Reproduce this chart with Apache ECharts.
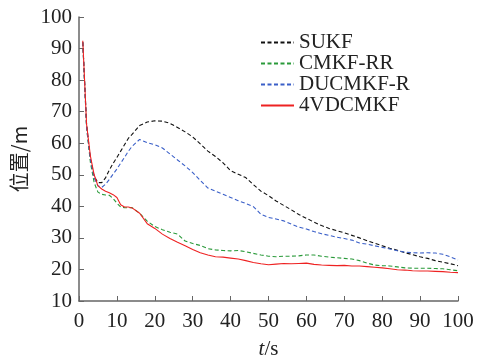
<!DOCTYPE html>
<html>
<head>
<meta charset="utf-8">
<script src="https://cdn.jsdelivr.net/npm/echarts@6/dist/echarts.min.js"></script>
<style>
  html, body { margin: 0; padding: 0; background: #fff; }
  #chart { width: 480px; height: 356px; }
</style>
</head>
<body>
<div id="chart"></div>
<script>
// 时间 t/s
const times = [1, 2, 3, 4, 5, 6, 7, 8, 9, 10, 11, 12, 13, 14, 16, 18, 20, 22, 24, 26, 28, 30,
  32, 34, 36, 38, 40, 42, 44, 46, 48, 50, 52, 54, 56, 58, 60, 62, 64, 66, 68, 70,
  72, 74, 76, 78, 80, 82, 84, 86, 88, 90, 92, 94, 96, 98, 100];

const sukf = [92, 66, 55, 49.5, 47.5, 47.5, 49, 51.5, 53.6, 55.5, 57.5, 59.5, 61.5, 62.8, 65.6, 66.7, 67.1, 67, 66.3, 65, 63.6, 62,
  59.8, 57.5, 55.8, 53.8, 51.3, 50.2, 49.1, 46.9, 44.8, 43.4, 41.7, 40.3, 38.9, 37.4, 36.2, 35, 33.9, 33, 32.3, 31.6,
  30.8, 30, 29.1, 28.3, 27.5, 26.7, 26.1, 25.3, 24.7, 24, 23.5, 22.8, 22.3, 21.8, 21.2];

const cmkfRR = [92, 65, 54, 47.5, 44.5, 43.8, 43.6, 43.5, 42.5, 41, 39.8, 39.6, 39.5, 39.6, 37.8, 35.3, 33.6, 32.6, 31.8, 31.2, 29, 28.2,
  27.6, 26.6, 26.2, 26, 25.9, 26, 25.6, 25.1, 24.6, 24.2, 24, 24.2, 24.2, 24.3, 24.6, 24.6, 24.2, 23.9, 23.7, 23.5,
  23.3, 22.8, 22, 21.4, 21.2, 21.1, 20.8, 20.5, 20.4, 20.4, 20.4, 20.3, 20.2, 19.9, 19.6];

const ducmkfR = [92, 65, 55, 49, 46.5, 46, 47, 48.5, 50.2, 51.8, 53.7, 55.5, 57.4, 59, 61.2, 60.2, 59.5, 58.5, 56.6, 54.7, 52.8, 50.7,
  48.2, 45.8, 44.8, 43.8, 42.8, 41.8, 40.9, 39.9, 37.5, 36.5, 36, 35.4, 34.4, 33.4, 32.8, 32, 31.3, 30.8, 30.2, 29.8,
  29.3, 28.4, 28, 27.5, 27, 26.5, 25.9, 25.5, 25.3, 25.2, 25.3, 25.2, 24.8, 24, 23];

const vdcmkf = [92.5, 66, 56, 50, 46.5, 45.5, 44.8, 44.3, 43.7, 42.8, 40.5, 39.8, 39.8, 39.5, 37.8, 34.5, 33, 31.2, 29.8, 28.6, 27.5, 26.3,
  25.3, 24.6, 24, 23.9, 23.6, 23.3, 22.8, 22.2, 21.8, 21.5, 21.7, 21.9, 21.8, 21.9, 22, 21.6, 21.4, 21.3, 21.2, 21.3,
  21.1, 21.1, 20.9, 20.7, 20.5, 20.2, 19.9, 19.8, 19.6, 19.5, 19.5, 19.4, 19.3, 19.1, 19];

const legendNames = ['SUKF', 'CMKF-RR', 'DUCMKF-R', '4VDCMKF'];

const serif = 'Liberation Serif';

const pairs = (vals) => times.map((t, i) => [t, vals[i]]);

const lineSeries = (name, vals, color, dashed) => ({
  name: name,
  type: 'line',
  data: pairs(vals),
  symbol: 'none',
  lineStyle: { color: color, width: 1.1, type: dashed ? [4, 2.5] : 'solid' },
  itemStyle: { color: color },
  z: dashed ? 2 : 3
});

const chart = echarts.init(document.getElementById('chart'));
chart.setOption({
  animation: false,
  backgroundColor: '#fff',
  grid: { left: 79, right: 22, top: 17, bottom: 55, containLabel: false, outerBoundsMode: 'none' },
  legend: {
    orient: 'vertical',
    left: 260,
    top: 32,
    padding: 0,
    itemWidth: 33,
    itemHeight: 10,
    itemGap: 0,
    itemStyle: { opacity: 0 },
    textStyle: { fontFamily: serif, fontSize: 21, color: '#222', lineHeight: 20 },
    data: legendNames
  },
  xAxis: {
    type: 'value',
    min: 0,
    max: 100,
    interval: 10,
    name: '{i|t}/s',
    nameLocation: 'middle',
    nameGap: 38,
    nameTextStyle: {
      fontFamily: serif, fontSize: 21, color: '#222',
      rich: { i: { fontFamily: serif, fontSize: 21, fontStyle: 'italic', color: '#222' } }
    },
    axisLine: { lineStyle: { color: '#666', width: 1.5 } },
    axisTick: { inside: true, length: 5, lineStyle: { color: '#666', width: 1 } },
    axisLabel: { fontFamily: serif, fontSize: 21, color: '#222', margin: 10 },
    splitLine: { show: false }
  },
  yAxis: {
    type: 'value',
    min: 10,
    max: 100,
    interval: 10,
    name: '位置/m',
    nameLocation: 'middle',
    nameGap: 43,
    nameTextStyle: { fontFamily: 'Noto Sans CJK SC', fontSize: 20, color: '#222' },
    axisLine: { show: true, lineStyle: { color: '#666', width: 1.5 } },
    axisTick: { show: true, inside: true, length: 5, lineStyle: { color: '#666', width: 1 } },
    axisLabel: { fontFamily: serif, fontSize: 21, color: '#222', margin: 7 },
    splitLine: { show: false }
  },
  series: [
    lineSeries('SUKF', sukf, '#111111', true),
    lineSeries('CMKF-RR', cmkfRR, '#2a9a3a', true),
    lineSeries('DUCMKF-R', ducmkfR, '#3a5fc8', true),
    lineSeries('4VDCMKF', vdcmkf, '#ee2222', false)
  ]
});
</script>
</body>
</html>
